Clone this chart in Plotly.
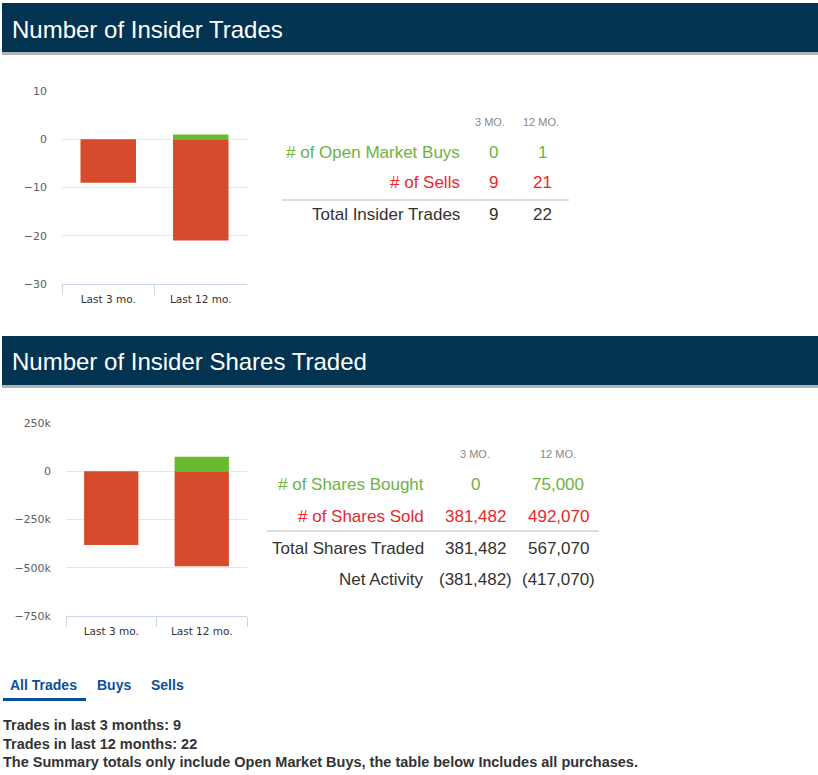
import plotly.graph_objects as go

W, H = 818, 775

# ---- data ----
categories = ["Last 3 mo.", "Last 12 mo."]
trade_buys = [0, 1]
trade_sells = [-9, -21]
share_bought = [0, 75000]
share_sold = [-381482, -492070]

trades_ticks = [10, 0, -10, -20, -30]
trades_tick_labels = ["10", "0", "\u221210", "\u221220", "\u221230"]
shares_ticks = [250000, 0, -250000, -500000, -750000]
shares_tick_labels = ["250k", "0", "\u2212250k", "\u2212500k", "\u2212750k"]

table1_cols = ["3 MO.", "12 MO."]
table1_rows = ["# of Open Market Buys", "# of Sells", "Total Insider Trades"]
table1_vals = [["0", "1"], ["9", "21"], ["9", "22"]]

table2_cols = ["3 MO.", "12 MO."]
table2_rows = ["# of Shares Bought", "# of Shares Sold", "Total Shares Traded", "Net Activity"]
table2_vals = [["0", "75,000"], ["381,482", "492,070"], ["381,482", "567,070"],
               ["(381,482)", "(417,070)"]]

titles = ["Number of Insider Trades", "Number of Insider Shares Traded"]
tabs = ["All Trades", "Buys", "Sells"]
notes = ["Trades in last 3 months: 9", "Trades in last 12 months: 22",
         "The Summary totals only include Open Market Buys, the table below Includes all purchases."]

# ---- styles ----
NAVY = "#023350"
RED_BAR = "#d64b2b"
GREEN_BAR = "#67bb2c"
GREEN_TXT = "#6cb33f"
RED_TXT = "#e8272b"
DARK = "#333333"
TAB_BLUE = "#0a4f9c"
AXIS_LINE = "#ccd6eb"
GRID = "#e6e6e6"
FONT = "Liberation Sans, Arial, sans-serif"
HC_FONT = "DejaVu Sans, Verdana, sans-serif"


def px(x):
    return x / W


def py(y):
    return 1 - y / H


fig = go.Figure()

# Chart 1
fig.add_trace(go.Bar(x=categories, y=trade_sells, marker_color=RED_BAR, width=0.6,
                     xaxis="x", yaxis="y", showlegend=False, marker_line_width=0))
fig.add_trace(go.Bar(x=categories, y=trade_buys, marker_color=GREEN_BAR, width=0.6,
                     xaxis="x", yaxis="y", showlegend=False, marker_line_width=0))
# Chart 2
fig.add_trace(go.Bar(x=categories, y=share_sold, marker_color=RED_BAR, width=0.6,
                     xaxis="x2", yaxis="y2", showlegend=False, marker_line_width=0))
fig.add_trace(go.Bar(x=categories, y=share_bought, marker_color=GREEN_BAR, width=0.6,
                     xaxis="x2", yaxis="y2", showlegend=False, marker_line_width=0))

xaxis_common = dict(
    showline=True, linecolor=AXIS_LINE, linewidth=1,
    ticks="outside", tickson="boundaries", ticklen=10, tickcolor=AXIS_LINE,
    ticklabelstandoff=5,
    showgrid=False, tickfont=dict(family=HC_FONT, size=10.5, color=DARK),
    fixedrange=True, automargin=False,
)
yaxis_common = dict(
    showgrid=True, gridcolor=GRID, gridwidth=1, zeroline=True, zerolinecolor=GRID,
    zerolinewidth=1, showline=False, ticks="", ticklabelstandoff=14,
    tickfont=dict(family=HC_FONT, size=11, color="#606060"), fixedrange=True,
    automargin=False,
)

fig.update_layout(
    width=W, height=H, margin=dict(l=0, r=0, t=0, b=0, pad=0, autoexpand=False),
    paper_bgcolor="white", plot_bgcolor="white", showlegend=False,
    barmode="relative", bargap=0.35,
    xaxis=dict(domain=[px(62), px(247)], anchor="y", **xaxis_common),
    yaxis=dict(domain=[py(284), py(91)], range=[-30, 10], anchor="x",
               tickvals=trades_ticks, ticktext=trades_tick_labels, **yaxis_common),
    xaxis2=dict(domain=[px(66), px(247)], anchor="y2", **xaxis_common),
    yaxis2=dict(domain=[py(616), py(423)], range=[-750000, 250000], anchor="x2",
                tickvals=shares_ticks, ticktext=shares_tick_labels, **yaxis_common),
)

shapes = []
# Header bands
for (y0, y1) in [(3, 52), (336, 385)]:
    shapes.append(dict(type="rect", xref="paper", yref="paper",
                       x0=px(2), x1=1, y0=py(y1), y1=py(y0),
                       fillcolor=NAVY, line_width=0, layer="below"))
    shapes.append(dict(type="rect", xref="paper", yref="paper",
                       x0=px(2), x1=1, y0=py(y1 + 3), y1=py(y1),
                       fillcolor="#b3b3b3", line_width=0, layer="below"))
# Table separators
shapes.append(dict(type="line", xref="paper", yref="paper", x0=px(282), x1=px(569),
                   y0=py(200), y1=py(200), line=dict(color="#dddddd", width=2)))
shapes.append(dict(type="line", xref="paper", yref="paper", x0=px(267), x1=px(599),
                   y0=py(531), y1=py(531), line=dict(color="#dddddd", width=2)))
# Tab underline
shapes.append(dict(type="rect", xref="paper", yref="paper", x0=px(3), x1=px(86),
                   y0=py(701), y1=py(698), fillcolor=TAB_BLUE, line_width=0))
fig.update_layout(shapes=shapes)

ann = []


def text(x, y, s, size, color, anchor="left", bold=False, family=FONT):
    ann.append(dict(xref="paper", yref="paper", x=px(x), y=py(y),
                    text=("<b>%s</b>" % s) if bold else s,
                    showarrow=False, xanchor=anchor, yanchor="middle",
                    borderpad=0, borderwidth=0,
                    font=dict(family=family, size=size, color=color)))


# Headers
text(12, 29, titles[0], 24, "white")
text(12, 362, titles[1], 24, "white")

# Table 1
col1_x = [490, 541]
for cx, c in zip(col1_x, table1_cols):
    text(cx, 122, c, 11, "#888888", "center")
row1_y = [152, 183, 215]
row1_col = [GREEN_TXT, RED_TXT, DARK]
val1_x = [493, 542]
for ry, lab, colr, vals in zip(row1_y, table1_rows, row1_col, table1_vals):
    text(460, ry, lab, 17, colr, "right")
    for vx, v in zip(val1_x, vals):
        text(vx, ry, v, 17, colr, "center")

# Table 2
col2_x = [475, 558]
for cx, c in zip(col2_x, table2_cols):
    text(cx, 454, c, 11, "#888888", "center")
row2_y = [484, 516, 548, 579]
row2_col = [GREEN_TXT, RED_TXT, DARK, DARK]
for ry, lab, colr, vals in zip(row2_y, table2_rows, row2_col, table2_vals):
    text(424, ry, lab, 17, colr, "right")
    for vx, v in zip(col2_x, vals):
        text(vx, ry, v, 17, colr, "center")

# Tabs
tab_x = [10, 97, 151]
for tx, t in zip(tab_x, tabs):
    text(tx, 685, t, 14, TAB_BLUE, "left", bold=True)

# Notes
for ny, n in zip([725, 744, 762], notes):
    text(3, ny, n, 14.5, DARK, "left", bold=True)

fig.update_layout(annotations=ann)

fig.write_html(
    "out.html",
    config={"displayModeBar": False},
    post_script=(
        "document.documentElement.style.margin='0';"
        "document.documentElement.style.overflow='hidden';"
        "document.body.style.margin='0';document.body.style.overflow='hidden';"
        "var gd=document.getElementById('{plot_id}');"
        "gd.style.position='fixed';gd.style.top='0px';gd.style.left='0px';"
    ),
)
